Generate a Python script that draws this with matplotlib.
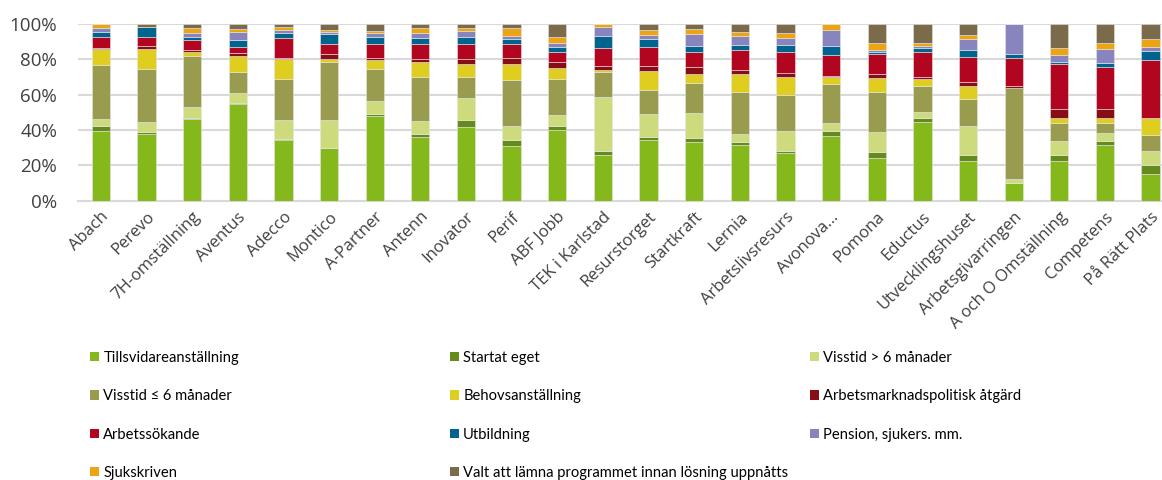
import matplotlib
matplotlib.use("Agg")
import matplotlib.pyplot as plt
import numpy as np
from matplotlib.patches import Patch

categories = ["Abach", "Perevo", "7H-omställning", "Aventus", "Adecco", "Montico",
              "A-Partner", "Antenn", "Inovator", "Perif", "ABF Jobb", "TEK i Karlstad",
              "Resurstorget", "Startkraft", "Lernia", "Arbetslivsresurs", "Avonova...",
              "Pomona", "Eductus", "Utvecklingshuset", "Arbetsgivarringen",
              "A och O Omställning", "Competens", "På Rätt Plats"]

series_names = ["Tillsvidareanställning", "Startat eget", "Visstid > 6 månader",
                "Visstid ≤ 6 månader", "Behovsanställning", "Arbetsmarknadspolitisk åtgärd",
                "Arbetssökande", "Utbildning", "Pension, sjukers. mm.",
                "Sjukskriven", "Valt att lämna programmet innan lösning uppnåtts"]

tillsvidare = [39.4, 37.7, 46.2, 54.9, 34.5, 29.6, 48.1, 35.8, 41.5, 30.9, 40.0, 25.8,
               34.3, 33.2, 31.7, 27.0, 36.6, 24.3, 44.7, 22.5, 10.2, 22.6, 31.5, 15.1]
startat_eget = [2.9, 1.3, 0.8, 0.6, 0.6, 0.4, 1.1, 1.9, 4.2, 3.4, 2.3, 2.3,
                1.7, 2.3, 1.5, 1.3, 2.8, 3.4, 1.9, 3.3, 0.0, 3.1, 2.3, 5.1]
visstid_over6 = [3.9, 5.5, 5.8, 5.5, 10.4, 15.5, 7.2, 7.4, 12.6, 7.8, 6.0, 30.6,
                 13.0, 14.1, 4.5, 11.1, 4.4, 11.4, 3.8, 16.5, 2.1, 8.1, 4.7, 7.7]
visstid_under6 = [30.8, 30.2, 29.2, 11.8, 23.4, 33.0, 17.9, 25.1, 11.7, 26.4, 20.7, 14.3,
                  13.6, 17.2, 23.6, 20.2, 22.4, 22.2, 14.3, 15.4, 51.7, 10.2, 5.5, 9.5]
behovs = [9.0, 11.3, 2.2, 8.9, 11.1, 1.7, 5.3, 8.3, 7.5, 9.0, 6.1, 0.8,
          11.0, 4.9, 10.4, 10.6, 3.6, 8.3, 4.0, 7.2, 0.0, 3.0, 2.6, 9.2]
arbetsmarknadspol = [0.5, 1.5, 1.1, 1.7, 1.0, 2.6, 1.0, 1.7, 2.5, 3.1, 3.6, 2.6,
                     2.8, 3.8, 2.5, 2.3, 1.0, 1.9, 1.5, 2.1, 1.1, 4.7, 5.5, 0.4]
arbetssokande = [6.3, 5.3, 5.7, 3.8, 10.9, 6.1, 7.9, 8.3, 8.5, 7.9, 5.3, 9.8,
                 10.4, 8.8, 10.9, 11.5, 11.7, 11.5, 13.8, 14.5, 15.8, 25.5, 23.4, 32.4]
utbildning = [2.9, 5.7, 1.5, 3.9, 3.0, 5.3, 4.0, 3.8, 4.3, 3.2, 3.2, 6.8,
              4.9, 3.4, 3.2, 4.3, 5.2, 1.0, 2.2, 4.0, 2.1, 1.5, 2.6, 5.1]
pension = [2.0, 0.0, 2.5, 4.2, 1.9, 1.5, 2.2, 2.8, 3.4, 1.3, 1.8, 5.1,
           2.3, 6.8, 5.1, 4.0, 8.7, 1.1, 1.3, 6.2, 17.0, 3.9, 7.6, 2.7]
sjukskriven = [2.3, 0.0, 3.0, 1.7, 1.3, 0.9, 1.3, 2.4, 1.3, 4.7, 3.5, 1.7,
               2.6, 2.5, 2.1, 2.8, 3.6, 4.0, 1.6, 2.3, 0.0, 3.8, 3.5, 4.5]
valt_lamna = [0.0, 1.5, 2.0, 3.0, 1.9, 3.4, 4.0, 2.5, 2.5, 2.3, 7.5, 0.2,
              3.4, 3.0, 4.5, 4.9, 0.0, 10.9, 10.9, 6.0, 0.0, 13.6, 10.8, 8.3]

colors = ["#85B81A", "#658B1C", "#CDDB7D", "#999B4E", "#DFCD20", "#870E14",
          "#B20620", "#00648F", "#8884BD", "#EDA413", "#7B6B4B"]

data = [tillsvidare, startat_eget, visstid_over6, visstid_under6, behovs,
        arbetsmarknadspol, arbetssokande, utbildning, pension, sjukskriven, valt_lamna]

fig = plt.figure(figsize=(11.62, 4.80), dpi=100)
ax = fig.add_axes([78 / 1162, 1 - 200.7 / 480, 1 - 78 / 1162, (200.7 - 24) / 480])

x = np.arange(len(categories))
arr = np.array(data, dtype=float)
totals = arr.sum(axis=0)
arr = arr / totals * 100.0
bottom = np.zeros(len(categories))
handles = []
for vals, col, name in zip(arr, colors, series_names):
    ax.bar(x, vals, width=0.4, bottom=bottom, color=col, edgecolor="#e6e6e6",
           linewidth=0.4, zorder=3)
    bottom += vals
    handles.append(Patch(facecolor=col, edgecolor="none", label=name))

ax.set_xlim(-0.5, 23.25)
ax.set_ylim(0, 100)
ax.set_yticks([0, 20, 40, 60, 80, 100])
ax.set_yticklabels(["0%", "20%", "40%", "60%", "80%", "100%"])
ax.yaxis.grid(True, color="#D9D9D9", linewidth=1.5, zorder=0)
ax.set_axisbelow(True)
for s in ["top", "right", "left"]:
    ax.spines[s].set_visible(False)
ax.spines["bottom"].set_color("#D9D9D9")
ax.spines["bottom"].set_linewidth(1.5)
ax.tick_params(axis="both", length=0, colors="#404040")
ax.tick_params(axis="y", pad=15)
ax.tick_params(axis="x", pad=6)
ax.set_xticks(x)
ax.set_xticklabels(categories, rotation=45, ha="right", rotation_mode="anchor",
                   fontsize=12, family="Open Sans", color="#404040")
for lab in ax.get_yticklabels():
    lab.set_fontsize(13.5)
    lab.set_family("Open Sans")

cols = [[0, 3, 6, 9], [1, 4, 7, 10], [2, 5, 8]]
xs = [90, 450, 810]
for ci, idxs in zip(xs, cols):
    leg = fig.legend(handles=[handles[i] for i in idxs], loc="upper left",
                     bbox_to_anchor=(ci / 1162, 1 - 351 / 480), frameon=False,
                     borderpad=0, borderaxespad=0, handlelength=0.6, handleheight=0.6,
                     handletextpad=0.3, labelspacing=1.65,
                     prop={"family": "Lato", "size": 10.6})
    for t in leg.get_texts():
        t.set_color("#000000")

fig.savefig("out.png", dpi=100)
